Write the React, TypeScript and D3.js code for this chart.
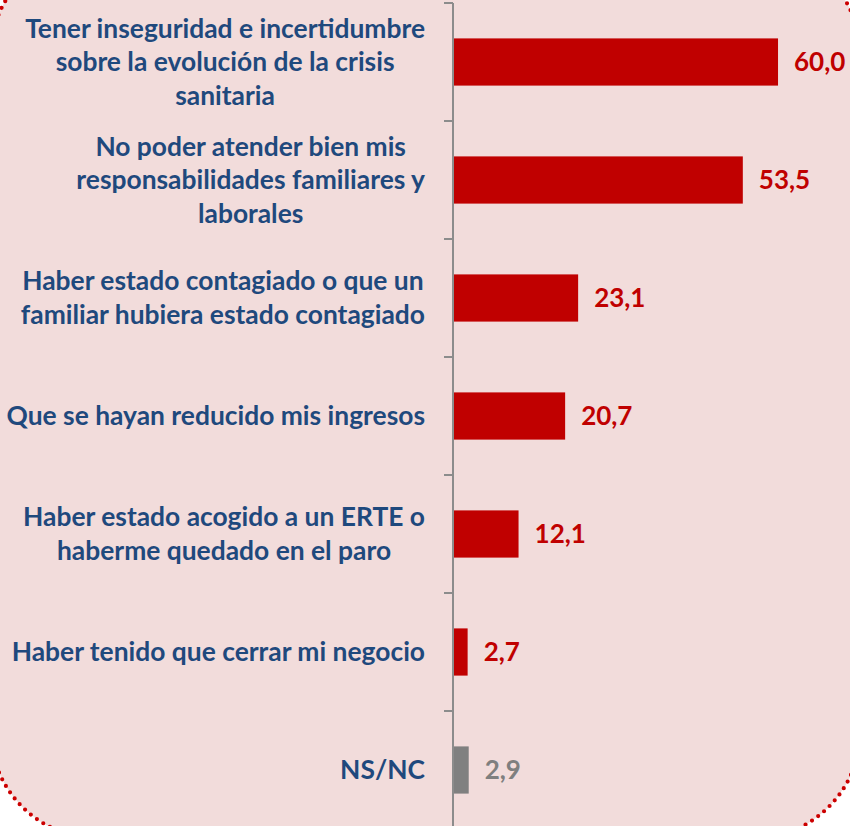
import React, { useEffect, useRef } from "react";
import * as d3 from "d3";

const categories: string[][] = [
  ["Tener inseguridad e incertidumbre", "sobre la evolución de la crisis", "sanitaria"],
  ["No poder atender bien mis", "responsabilidades familiares y", "laborales"],
  ["Haber estado contagiado o que un", "familiar hubiera estado contagiado"],
  ["Que se hayan reducido mis ingresos"],
  ["Haber estado acogido a un ERTE o", "haberme quedado en el paro"],
  ["Haber tenido que cerrar mi negocio"],
  ["NS/NC"],
];
const values: number[] = [60.0, 53.5, 23.1, 20.7, 12.1, 2.7, 2.9];
const barColors: string[] = ["#c00000", "#c00000", "#c00000", "#c00000", "#c00000", "#c00000", "#808080"];
const labelColors: string[] = ["#c00000", "#c00000", "#c00000", "#c00000", "#c00000", "#c00000", "#7f7f7f"];

const W = 850;
const H = 826;
const FONT = "Lato, 'Open Sans', sans-serif";

export default function App() {
  const ref = useRef<SVGSVGElement | null>(null);

  useEffect(() => {
    const svg = d3.select(ref.current);
    svg.selectAll("*").remove();

    // background with dotted rounded border
    svg.append("rect").attr("x", 0).attr("y", 0).attr("width", W).attr("height", H).attr("fill", "#ffffff");
    svg
      .append("rect")
      .attr("x", -10)
      .attr("y", -53)
      .attr("width", 871)
      .attr("height", 892)
      .attr("rx", 110)
      .attr("ry", 110)
      .attr("fill", "#f2dcdb")
      .attr("stroke", "#cc0000")
      .attr("stroke-width", 4.2)
      .attr("stroke-linecap", "round")
      .attr("stroke-dasharray", "0 7.6");

    const x0 = 453;
    const x = d3.scaleLinear().domain([0, 70]).range([x0, x0 + 379.2]);
    const idx = categories.map((_, i) => String(i));
    const y = d3.scaleBand<string>().domain(idx).range([3, 829]).paddingInner(0.6).paddingOuter(0.3);
    const step = y.step();

    const measure = (s: string) => {
      const probe = svg
        .append("text")
        .attr("font-family", FONT)
        .attr("font-weight", "bold")
        .attr("font-size", 100)
        .text(s);
      const w = (probe.node() as SVGTextElement).getComputedTextLength();
      probe.remove();
      return w;
    };
    const fs = Math.min(27, (400 / measure("Tener inseguridad e incertidumbre")) * 100);
    const vfs = 26;
    const lineH = 33.5;
    const labelRight = 425;

    // bars
    svg
      .selectAll("rect.bar")
      .data(values)
      .join("rect")
      .attr("class", "bar")
      .attr("x", x(0))
      .attr("y", (_, i) => y(String(i))!)
      .attr("width", (d) => x(d) - x(0))
      .attr("height", y.bandwidth())
      .attr("fill", (_, i) => barColors[i]);

    // axis line and ticks
    const axis = svg.append("g");
    axis
      .append("line")
      .attr("x1", x0)
      .attr("x2", x0)
      .attr("y1", 3)
      .attr("y2", H)
      .attr("stroke", "#8c8c8c")
      .attr("stroke-width", 2);
    const tickYs = d3.range(categories.length + 1).map((i) => 3 + i * step);
    axis
      .selectAll("line.tick")
      .data(tickYs)
      .join("line")
      .attr("class", "tick")
      .attr("x1", x0 - 9)
      .attr("x2", x0)
      .attr("y1", (d) => d)
      .attr("y2", (d) => d)
      .attr("stroke", "#8c8c8c")
      .attr("stroke-width", 2);

    // category labels
    categories.forEach((lines, i) => {
      const cy = y(String(i))! + y.bandwidth() / 2;
      const g = svg.append("g");
      const texts = lines.map((ln) =>
        g
          .append("text")
          .attr("font-family", FONT)
          .attr("font-weight", "bold")
          .attr("font-size", fs)
          .attr("fill", "#1f497d")
          .attr("text-anchor", "middle")
          .text(ln)
      );
      const widths = texts.map((t) => (t.node() as SVGTextElement).getComputedTextLength());
      const maxW = Math.max(...widths);
      const cx = labelRight - maxW / 2;
      const n = lines.length;
      texts.forEach((t, k) => {
        const cyLine = cy + (k - (n - 1) / 2) * lineH;
        t.attr("x", cx).attr("y", cyLine).attr("dy", "0.35em");
      });
    });

    // value labels
    svg
      .selectAll("text.val")
      .data(values)
      .join("text")
      .attr("class", "val")
      .attr("x", (d) => x(d) + 16)
      .attr("y", (_, i) => y(String(i))! + y.bandwidth() / 2)
      .attr("dy", "0.35em")
      .attr("font-family", FONT)
      .attr("font-weight", "bold")
      .attr("font-size", vfs)
      .attr("fill", (_, i) => labelColors[i])
      .text((d) => d.toFixed(1).replace(".", ","));
  }, []);

  return (
    <svg
      ref={ref}
      width={W}
      height={H}
      style={{ position: "absolute", left: 0, top: 0, display: "block" }}
    />
  );
}
